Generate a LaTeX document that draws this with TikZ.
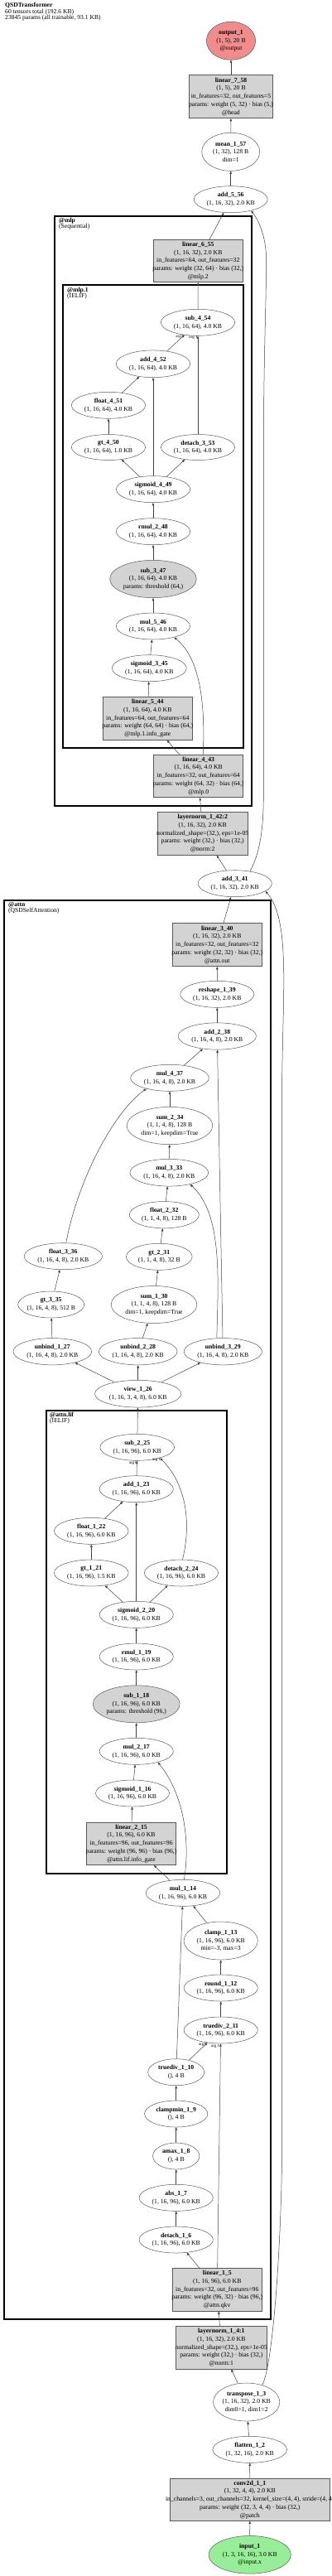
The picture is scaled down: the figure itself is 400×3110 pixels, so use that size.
\documentclass[tikz,border=0pt]{standalone}
\usepackage{fontspec}
\setmainfont{Liberation Serif}
\usetikzlibrary{shapes.geometric,arrows.meta}
\definecolor{gfill}{HTML}{D3D3D3}
\definecolor{outfill}{HTML}{F08C8C}
\definecolor{infill}{HTML}{98EE98}
\newcommand\nodefont{\fontsize{7.7}{9.7}\selectfont}
\newcommand\clfont{\fontsize{7.6}{7.3}\selectfont}
\newcommand\argfont{\fontsize{5}{5}\selectfont}
\newcommand\hd[1]{\textbf{#1}\\}
\begin{document}
\begin{tikzpicture}[x=1pt,y=-1pt,
  nbase/.style={draw=black!65, line width=0.5pt, inner sep=-30pt, align=center, font=\nodefont},
  el/.style 2 args={nbase, ellipse, minimum width=#1, minimum height=#2},
  gel/.style 2 args={el={#1}{#2}, fill=gfill},
  bx/.style 2 args={nbase, rectangle, minimum width=#1, minimum height=#2, fill=gfill},
  conn/.style={draw=black!75, line width=0.5pt, -{Triangle[length=3.4pt,width=2.6pt]}},
  cluster/.style={draw=black, line width=2pt},
  clab/.style={anchor=north west, align=left, font=\clfont, inner sep=0pt},
  arglab/.style={font=\argfont, inner sep=0pt}]
\useasboundingbox (0,0) rectangle (400,3110);
\clip (0,0) rectangle (400,3110);
\fill[white] (0,0) rectangle (400,3110);

% title
\node[clab] (title) at (6,3.3) {\textbf{QSDTransformer}\\60 tensors total (192.6 KB)\\23845 params (all trainable, 93.1 KB)};

% clusters
\draw[cluster] (65.7,260.5) rectangle (304.3,972.7);
\node[clab] (lmlp) at (71,263) {\textbf{@mlp}\\(Sequential)};
\draw[cluster] (76.3,344.3) rectangle (294,903.3);
\node[clab] (lmlpone) at (81,346.6) {\textbf{@mlp.1}\\(IELIF)};
\draw[cluster] (5,1086.7) rectangle (326.7,2800);
\node[clab] (lattn) at (10,1089) {\textbf{@attn}\\(QSDSelfAttention)};
\draw[cluster] (55.7,1703.3) rectangle (273.7,2261.7);
\node[clab] (lattnlif) at (60,1704.6) {\textbf{@attn.lif}\\(IELIF)};

% nodes
\node[el={59.3}{46},fill=outfill] (output) at (279,49.3) {\hd{output\_1}(1, 5), 20 B\\@output};
\node[bx={101.3}{52}] (lin758) at (279,116.7) {\hd{linear\_7\_58}(1, 5), 20 B\\in\_features=32, out\_features=5\\params: weight (5, 32) · bias (5,)\\@head};
\node[el={70}{46}] (mean157) at (278.7,183.3) {\hd{mean\_1\_57}(1, 32), 128 B\\dim=1};
\node[el={89}{32}] (add556) at (278.7,240.7) {\hd{add\_5\_56}(1, 16, 32), 2.0 KB};
\node[bx={108}{51.3}] (lin655) at (239.3,315) {\hd{linear\_6\_55}(1, 16, 32), 2.0 KB\\in\_features=64, out\_features=32\\params: weight (32, 64) · bias (32,)\\@mlp.2};
\node[el={89.3}{32}] (sub454) at (239,389.3) {\hd{sub\_4\_54}(1, 16, 64), 4.0 KB};
\node[el={89.3}{32.7}] (add452) at (185,439.3) {\hd{add\_4\_52}(1, 16, 64), 4.0 KB};
\node[el={89.3}{32}] (float451) at (131,489.3) {\hd{float\_4\_51}(1, 16, 64), 4.0 KB};
\node[el={89.3}{31}] (gt450) at (131,540) {\hd{gt\_4\_50}(1, 16, 64), 1.0 KB};
\node[el={89.3}{31}] (det353) at (239,540) {\hd{detach\_3\_53}(1, 16, 64), 4.0 KB};
\node[el={89.3}{32}] (sig449) at (185,590.7) {\hd{sigmoid\_4\_49}(1, 16, 64), 4.0 KB};
\node[el={89.3}{32}] (rmul248) at (185,641.7) {\hd{rmul\_2\_48}(1, 16, 64), 4.0 KB};
\node[gel={104.7}{45.3}] (sub347) at (185,699) {\hd{sub\_3\_47}(1, 16, 64), 4.0 KB\\params: threshold (64,)};
\node[el={89.3}{32}] (mul546) at (185,756) {\hd{mul\_5\_46}(1, 16, 64), 4.0 KB};
\node[el={90}{32}] (sig345) at (180.3,806.7) {\hd{sigmoid\_3\_45}(1, 16, 64), 4.0 KB};
\node[bx={108}{52.3}] (lin544) at (178.3,867.2) {\hd{linear\_5\_44}(1, 16, 64), 4.0 KB\\in\_features=64, out\_features=64\\params: weight (64, 64) · bias (64,)\\@mlp.1.info\_gate};
\node[bx={108}{51.7}] (lin443) at (239.7,936.8) {\hd{linear\_4\_43}(1, 16, 64), 4.0 KB\\in\_features=32, out\_features=64\\params: weight (64, 32) · bias (64,)\\@mlp.0};
\node[bx={109.3}{52}] (ln142) at (244.7,1006.3) {\hd{layernorm\_1\_42:2}(1, 16, 32), 2.0 KB\\normalized\_shape=(32,), eps=1e-05\\params: weight (32,) · bias (32,)\\@norm:2};
\node[el={89.3}{32}] (add341) at (283.7,1066.7) {\hd{add\_3\_41}(1, 16, 32), 2.0 KB};
\node[bx={108}{52}] (lin340) at (262.3,1140.7) {\hd{linear\_3\_40}(1, 16, 32), 2.0 KB\\in\_features=32, out\_features=32\\params: weight (32, 32) · bias (32,)\\@attn.out};
\node[el={89.3}{32}] (resh139) at (262.3,1200.3) {\hd{reshape\_1\_39}(1, 16, 32), 2.0 KB};
\node[el={94.3}{32.3}] (add238) at (262.3,1251) {\hd{add\_2\_38}(1, 16, 4, 8), 2.0 KB};
\node[el={94.7}{32}] (mul437) at (205,1301.3) {\hd{mul\_4\_37}(1, 16, 4, 8), 2.0 KB};
\node[el={103.7}{45.3}] (sum234) at (205,1359) {\hd{sum\_2\_34}(1, 1, 4, 8), 128 B\\dim=1, keepdim=True};
\node[el={94.7}{32.7}] (mul333) at (204.3,1415.7) {\hd{mul\_3\_33}(1, 16, 4, 8), 2.0 KB};
\node[el={84}{32.3}] (float232) at (198.3,1466.7) {\hd{float\_2\_32}(1, 1, 4, 8), 128 B};
\node[el={94.3}{32}] (float336) at (76.3,1516.7) {\hd{float\_3\_36}(1, 16, 4, 8), 2.0 KB};
\node[el={79.7}{32}] (gt231) at (192.3,1517.3) {\hd{gt\_2\_31}(1, 1, 4, 8), 32 B};
\node[el={80}{32}] (gt335) at (61.7,1575) {\hd{gt\_3\_35}(1, 16, 4, 8), 512 B};
\node[el={103.7}{45}] (sum130) at (186,1575) {\hd{sum\_1\_30}(1, 1, 4, 8), 128 B\\dim=1, keepdim=True};
\node[el={94.7}{32.3}] (unb127) at (63.3,1631.7) {\hd{unbind\_1\_27}(1, 16, 4, 8), 2.0 KB};
\node[el={94.7}{32.3}] (unb228) at (166.7,1631.7) {\hd{unbind\_2\_28}(1, 16, 4, 8), 2.0 KB};
\node[el={94.3}{32.3}] (unb329) at (269.3,1631.7) {\hd{unbind\_3\_29}(1, 16, 4, 8), 2.0 KB};
\node[el={104.3}{32.7}] (view126) at (166.7,1682.7) {\hd{view\_1\_26}(1, 16, 3, 4, 8), 6.0 KB};
\node[el={89.7}{32}] (sub225) at (165.7,1747.3) {\hd{sub\_2\_25}(1, 16, 96), 6.0 KB};
\node[el={89.3}{32}] (add123) at (164.7,1797.7) {\hd{add\_1\_23}(1, 16, 96), 6.0 KB};
\node[el={89.7}{32}] (float122) at (110.3,1848.3) {\hd{float\_1\_22}(1, 16, 96), 6.0 KB};
\node[el={89.7}{32}] (gt121) at (110.3,1899) {\hd{gt\_1\_21}(1, 16, 96), 1.5 KB};
\node[el={89.3}{32}] (det224) at (219,1899) {\hd{detach\_2\_24}(1, 16, 96), 6.0 KB};
\node[el={89.3}{32}] (sig220) at (164.7,1949.3) {\hd{sigmoid\_2\_20}(1, 16, 96), 6.0 KB};
\node[el={89.3}{32}] (rmul119) at (164.7,2000) {\hd{rmul\_1\_19}(1, 16, 96), 6.0 KB};
\node[gel={105}{45}] (sub118) at (164.7,2057.3) {\hd{sub\_1\_18}(1, 16, 96), 6.0 KB\\params: threshold (96,)};
\node[el={89.3}{32}] (mul217) at (164.7,2114.3) {\hd{mul\_2\_17}(1, 16, 96), 6.0 KB};
\node[el={89}{32}] (sig116) at (160,2165) {\hd{sigmoid\_1\_16}(1, 16, 96), 6.0 KB};
\node[bx={107.7}{51.7}] (lin215) at (158.5,2225.8) {\hd{linear\_2\_15}(1, 16, 96), 6.0 KB\\in\_features=96, out\_features=96\\params: weight (96, 96) · bias (96,)\\@attn.lif.info\_gate};
\node[el={89.7}{32}] (mul114) at (221,2285.3) {\hd{mul\_1\_14}(1, 16, 96), 6.0 KB};
\node[el={89.3}{46}] (clamp113) at (266.7,2343) {\hd{clamp\_1\_13}(1, 16, 96), 6.0 KB\\min=-3, max=3};
\node[el={89.3}{32}] (round112) at (266.7,2400) {\hd{round\_1\_12}(1, 16, 96), 6.0 KB};
\node[el={89.3}{32}] (tdiv211) at (266.7,2451) {\hd{truediv\_2\_11}(1, 16, 96), 6.0 KB};
\node[el={68}{32}] (tdiv110) at (212.7,2501.7) {\hd{truediv\_1\_10}(), 4 B};
\node[el={76.3}{32}] (cmin19) at (212.7,2552) {\hd{clampmin\_1\_9}(), 4 B};
\node[el={56.3}{32}] (amax18) at (212.7,2603) {\hd{amax\_1\_8}(), 4 B};
\node[el={89.3}{32}] (abs17) at (212.7,2653.3) {\hd{abs\_1\_7}(1, 16, 96), 6.0 KB};
\node[el={89.3}{32}] (det16) at (212.7,2704) {\hd{detach\_1\_6}(1, 16, 96), 6.0 KB};
\node[bx={108}{51.7}] (lin15) at (262.3,2764.2) {\hd{linear\_1\_5}(1, 16, 96), 6.0 KB\\in\_features=32, out\_features=96\\params: weight (96, 32) · bias (96,)\\@attn.qkv};
\node[bx={110}{51.7}] (ln14) at (267.3,2834.2) {\hd{layernorm\_1\_4:1}(1, 16, 32), 2.0 KB\\normalized\_shape=(32,), eps=1e-05\\params: weight (32,) · bias (32,)\\@norm:1};
\node[el={80.3}{46}] (tr13) at (297.7,2900) {\hd{transpose\_1\_3}(1, 16, 32), 2.0 KB\\dim0=1, dim1=2};
\node[el={89.7}{32}] (flat12) at (301.7,2957.3) {\hd{flatten\_1\_2}(1, 32, 16), 2.0 KB};
\node[bx={193}{51}] (conv11) at (301.8,3017.8) {\hd{conv2d\_1\_1}(1, 32, 4, 4), 2.0 KB\\in\_channels=3, out\_channels=32, kernel\_size=(4, 4), stride=(4, 4)\\params: weight (32, 3, 4, 4) · bias (32,)\\@patch};
\node[el={99.3}{45.7},fill=infill] (input1) at (301.7,3084.3) {\hd{input\_1}(1, 3, 16, 16), 3.0 KB\\@input.x};

% argument labels
\node[arglab] (a0sub454) at (217.5,406.7) {arg 0};
\node[arglab] (a1sub454) at (233.5,407.3) {arg 1};
\node[arglab] (a0sub225) at (160.8,1766) {arg 0};
\node[arglab] (a1sub225) at (189.2,1762.7) {arg 1};
\node[arglab] (a0tdiv211) at (245,2468.3) {arg 0};
\node[arglab] (a1tdiv211) at (260,2470) {arg 1};

% straight connectors
\draw[conn] (lin758) -- (output);
\draw[conn] (mean157) -- (lin758);
\draw[conn] (add556) -- (mean157);
\draw[conn] (lin655) -- (add556);
\draw[conn] (sub454) -- (lin655);
\draw[conn] (add452) -- (sub454);
\draw[conn] (det353) -- (sub454);
\draw[conn] (float451) -- (add452);
\draw[conn] (sig449) -- (add452);
\draw[conn] (gt450) -- (float451);
\draw[conn] (sig449) -- (gt450);
\draw[conn] (sig449) -- (det353);
\draw[conn] (rmul248) -- (sig449);
\draw[conn] (sub347) -- (rmul248);
\draw[conn] (mul546) -- (sub347);
\draw[conn] (sig345) -- (mul546);
\draw[conn] (lin544) -- (sig345);
\draw[conn] (lin443) -- (lin544);
\draw[conn] (ln142) -- (lin443);
\draw[conn] (add341) -- (ln142);
\draw[conn] (lin340) -- (add341);
\draw[conn] (resh139) -- (lin340);
\draw[conn] (add238) -- (resh139);
\draw[conn] (mul437) -- (add238);
\draw[conn] (unb329) -- (add238);
\draw[conn] (sum234) -- (mul437);
\draw[conn] (mul333) -- (sum234);
\draw[conn] (float232) -- (mul333);
\draw[conn] (gt231) -- (float232);
\draw[conn] (sum130) -- (gt231);
\draw[conn] (gt335) -- (float336);
\draw[conn] (unb127) -- (gt335);
\draw[conn] (unb228) -- (sum130);
\draw[conn] (view126) -- (unb127);
\draw[conn] (view126) -- (unb228);
\draw[conn] (view126) -- (unb329);
\draw[conn] (sub225) -- (view126);
\draw[conn] (add123) -- (sub225);
\draw[conn] (float122) -- (add123);
\draw[conn] (sig220) -- (add123);
\draw[conn] (gt121) -- (float122);
\draw[conn] (sig220) -- (gt121);
\draw[conn] (sig220) -- (det224);
\draw[conn] (rmul119) -- (sig220);
\draw[conn] (sub118) -- (rmul119);
\draw[conn] (mul217) -- (sub118);
\draw[conn] (sig116) -- (mul217);
\draw[conn] (lin215) -- (sig116);
\draw[conn] (mul114) -- (lin215);
\draw[conn] (tdiv110) -- (mul114);
\draw[conn] (clamp113) -- (mul114);
\draw[conn] (round112) -- (clamp113);
\draw[conn] (tdiv211) -- (round112);
\draw[conn] (tdiv110) -- (tdiv211);
\draw[conn] (lin15) -- (tdiv211);
\draw[conn] (cmin19) -- (tdiv110);
\draw[conn] (amax18) -- (cmin19);
\draw[conn] (abs17) -- (amax18);
\draw[conn] (det16) -- (abs17);
\draw[conn] (lin15) -- (det16);
\draw[conn] (ln14) -- (lin15);
\draw[conn] (tr13) -- (ln14);
\draw[conn] (flat12) -- (tr13);
\draw[conn] (conv11) -- (flat12);
\draw[conn] (input1) -- (conv11);

% curved connectors
\draw[conn] (add341.39) .. controls (314,1030) and (318.3,1000) .. (318.3,960) -- (318.3,560) .. controls (318.3,420) and (322,360) .. (321.5,310) .. controls (321,285) and (312,265) .. (add556.-29);
\draw[conn] (tr13.47) .. controls (330,2855) and (340.7,2700) .. (340.7,2580) -- (340.7,1300) .. controls (342,1190) and (350,1110) .. (add341.-14);
\draw[conn] (lin443.78) .. controls (248,850) and (242,795) .. (mul546.-28);
\draw[conn] (float336.78) .. controls (95,1420) and (140,1340) .. (mul437.-155);
\draw[conn] (unb329.115) .. controls (264,1540) and (268,1465) .. (mul333.-29);
\draw[conn] (det224.85) .. controls (230,1845) and (228,1795) .. (sub225.-25);
\draw[conn] (mul114.85) .. controls (229,2230) and (225,2170) .. (mul217.-27);
\end{tikzpicture}
\end{document}
